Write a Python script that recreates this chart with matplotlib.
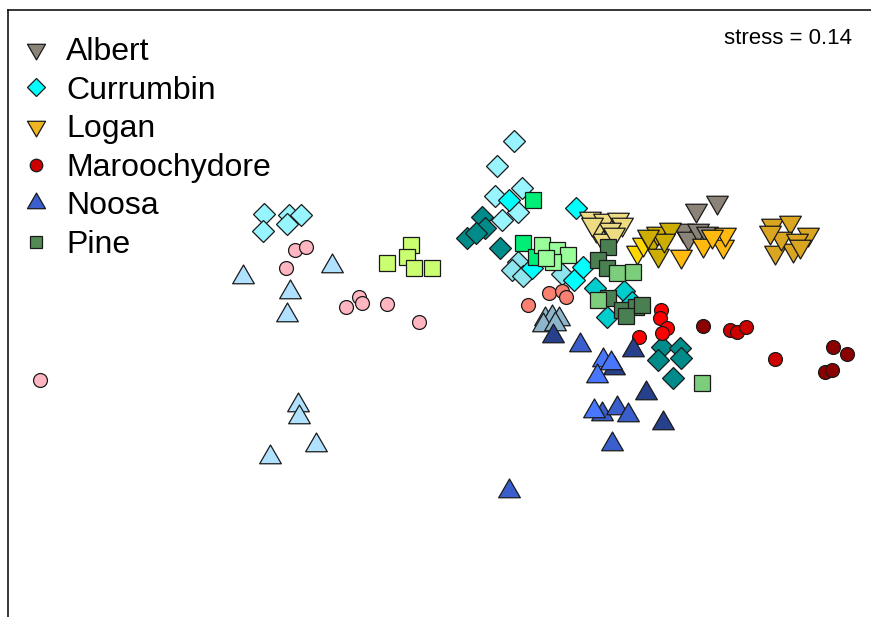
import matplotlib.pyplot as plt
import numpy as np
from matplotlib.path import Path
from matplotlib.lines import Line2D

plt.rcParams['font.family'] = ['Liberation Sans', 'DejaVu Sans']

# NMDS ordination scores (axis 1, axis 2), one array per site, grouped by river
albert = [np.array([[2.96, 0.90], [3.17, 0.98], [2.83, 0.70], [2.88, 0.62],
                    [2.98, 0.70], [3.07, 0.67]])]

currumbin = [
    np.array([[-1.36, 0.86], [-1.37, 0.69], [-1.11, 0.85], [-1.13, 0.76], [-0.99, 0.85]]),
    np.array([[1.14, 1.59], [0.97, 1.34], [1.22, 1.12], [0.95, 1.04], [1.18, 0.88], [1.02, 0.80]]),
    np.array([[0.82, 0.83], [0.85, 0.72], [0.67, 0.62], [0.76, 0.67], [1.00, 0.52]]),
    np.array([[1.18, 0.38], [1.12, 0.30], [1.23, 0.24], [1.62, 0.26]]),
    np.array([[1.09, 1.00], [1.76, 0.92], [1.32, 0.32], [1.74, 0.20], [1.83, 0.33]]),
    np.array([[1.95, 0.12], [2.24, 0.09], [2.32, -0.02], [2.07, -0.17]]),
    np.array([[2.62, -0.47], [2.80, -0.48], [2.58, -0.60], [2.81, -0.58], [2.73, -0.78]]),
]

logan = [
    np.array([[1.90, 0.82], [2.04, 0.80], [2.18, 0.81], [2.22, 0.76], [1.96, 0.70],
              [2.10, 0.71], [2.03, 0.60], [2.14, 0.66], [1.92, 0.76]]),
    np.array([[2.37, 0.48], [2.43, 0.56], [2.50, 0.60]]),
    np.array([[2.52, 0.58], [2.58, 0.45], [2.57, 0.67], [2.70, 0.71], [2.64, 0.60], [2.48, 0.64]]),
    np.array([[2.81, 0.44], [3.03, 0.55], [3.23, 0.54], [3.25, 0.66], [3.12, 0.64]]),
    np.array([[3.72, 0.75], [3.90, 0.78], [4.08, 0.66], [3.75, 0.48], [3.93, 0.50],
              [3.81, 0.62], [3.97, 0.60], [3.70, 0.68], [4.00, 0.54]]),
]

maroochydore = [
    np.array([[-3.60, -0.80], [-1.05, 0.50], [-0.94, 0.53], [-1.14, 0.32], [-0.54, -0.07],
              [-0.41, 0.03], [-0.38, -0.03], [-0.13, -0.04], [0.19, -0.22]]),
    np.array([[1.49, 0.07], [1.62, 0.09], [1.66, 0.03], [1.28, -0.05]]),
    np.array([[2.61, -0.10], [2.60, -0.18], [2.67, -0.28], [2.62, -0.33], [2.39, -0.37]]),
    np.array([[3.30, -0.30], [3.37, -0.32], [3.46, -0.27], [3.75, -0.59]]),
    np.array([[3.03, -0.26], [4.33, -0.47], [4.47, -0.54], [4.25, -0.72], [4.32, -0.70]]),
]

noosa = [
    np.array([[-1.57, 0.23], [-1.10, 0.08], [-1.13, -0.15], [-0.68, 0.34], [-1.02, -1.05],
              [-1.01, -1.17], [-0.84, -1.45], [-1.30, -1.57]]),
    np.array([[1.45, -0.19], [1.52, -0.17], [1.59, -0.19], [1.43, -0.25], [1.55, -0.24]]),
    np.array([[1.53, -0.36], [2.33, -0.50], [2.14, -0.68], [2.46, -0.93], [2.63, -1.23]]),
    np.array([[1.80, -0.45], [2.02, -1.14], [2.17, -1.08], [2.28, -1.15], [2.12, -1.44], [1.09, -1.91]]),
    np.array([[2.03, -0.60], [1.97, -0.76], [1.94, -1.11], [2.11, -0.63]]),
]

pine = [
    np.array([[0.11, 0.55], [0.07, 0.43], [-0.13, 0.37], [0.14, 0.32], [0.32, 0.32]]),
    np.array([[1.33, 1.00], [1.23, 0.57], [1.36, 0.43]]),
    np.array([[1.42, 0.55], [1.57, 0.50], [1.68, 0.45], [1.53, 0.38], [1.46, 0.42]]),
    np.array([[2.08, 0.53], [1.98, 0.40], [2.07, 0.32], [2.08, 0.02], [2.22, -0.10],
              [2.36, -0.07], [2.26, -0.16], [2.42, -0.05]]),
    np.array([[2.17, 0.27], [2.33, 0.28], [1.98, 0.00], [3.02, -0.83]]),
]

rivers = ["Albert", "Currumbin", "Logan", "Maroochydore", "Noosa", "Pine"]
stress = 0.14

# site colours within each river
albert_cols = ['#8B8378']
currumbin_cols = ['#97F5FF', '#98F5FF', '#008B8B', '#8EE5EE', '#00FFFF', '#00CDCD', '#008B8B']
logan_cols = ['#EEDC82', '#FFD700', '#CDAD00', '#FFB90F', '#DAA520']
maroochydore_cols = ['#FFB6C1', '#FA8072', '#FF0000', '#CD0000', '#8B0000']
noosa_cols = ['#B0E2FF', '#8DB6CD', '#27408B', '#3A5FCD', '#4876FF']
pine_cols = ['#CAFF70', '#00EE76', '#9AFF9A', '#4A7F52', '#7CCD7C']

legend_cols = ['#8B8378', '#00FFFF', '#EEB422', '#CD0000', '#3A5FCD', '#548B54']

# equilateral triangles like R's pch 24 / 25
tri_up = Path([(0, 0.577), (-0.5, -0.289), (0.5, -0.289), (0, 0.577)],
              [Path.MOVETO, Path.LINETO, Path.LINETO, Path.CLOSEPOLY])
tri_down = Path([(0, -0.577), (-0.5, 0.289), (0.5, 0.289), (0, -0.577)],
                [Path.MOVETO, Path.LINETO, Path.LINETO, Path.CLOSEPOLY])

fig = plt.figure(figsize=(8.71, 6.17), dpi=100)
ax = fig.add_axes([8 / 871, -33 / 617, 892 / 871, 640 / 617])

groups = [(albert, albert_cols, tri_down, 18),
          (currumbin, currumbin_cols, 'D', 10.8),
          (logan, logan_cols, tri_down, 18),
          (maroochydore, maroochydore_cols, 'o', 10),
          (noosa, noosa_cols, tri_up, 18),
          (pine, pine_cols, 's', 11.5)]

for sites, cols, mk, ms in groups:
    for pts, c in zip(sites, cols):
        ax.plot(pts[:, 0], pts[:, 1], linestyle='none', marker=mk, markersize=ms,
                markerfacecolor=c, markeredgecolor='#1a1a1a', markeredgewidth=0.9)

ax.set_xlim(-3.92, 5.0)
ax.set_ylim(-3.5, 2.9)
ax.set_xticks([])
ax.set_yticks([])
for s in ax.spines.values():
    s.set_linewidth(1.1)

# legend
shapes = [tri_down, 'D', tri_down, 'o', tri_up, 's']
sizes = [15, 9.5, 15, 9, 15, 9]
handles = [Line2D([], [], linestyle='none', marker=m, markersize=sz, markerfacecolor=c,
                  markeredgecolor='#1a1a1a', markeredgewidth=0.9)
           for m, sz, c in zip(shapes, sizes, legend_cols)]
ax.legend(handles, rivers, loc='upper left', bbox_to_anchor=(20 / 871, 1 - 37 / 617),
          bbox_transform=fig.transFigure, frameon=False, fontsize=23,
          handlelength=1.0, handletextpad=0.45, labelspacing=0.27,
          borderpad=0, borderaxespad=0)

fig.text(852 / 871, 1 - 38 / 617, "stress = %.2f" % stress, ha='right', va='center',
         fontsize=16)

plt.savefig("out.png", dpi=100)
